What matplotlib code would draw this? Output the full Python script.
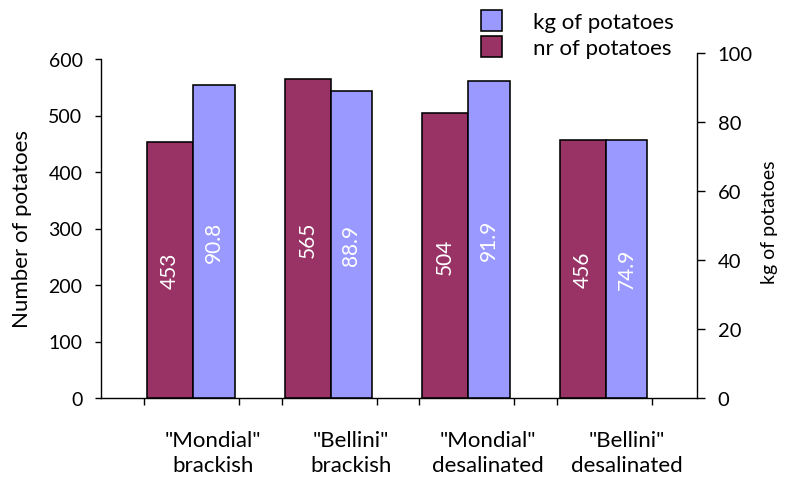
import numpy as np
import matplotlib
matplotlib.use("Agg")
import matplotlib.pyplot as plt
from matplotlib.patches import Rectangle

plt.rcParams['font.family'] = ['Lato', 'DejaVu Sans']

categories = ['"Mondial"\nbrackish', '"Bellini"\nbrackish',
              '"Mondial"\ndesalinated', '"Bellini"\ndesalinated']
nr_potatoes = [453, 565, 504, 456]
kg_potatoes = [90.8, 88.9, 91.9, 74.9]
legend_labels = ['kg of potatoes', 'nr of potatoes']

maroon = '#993366'
lavender = '#9999FF'

W, H = 790, 481
fig = plt.figure(figsize=(W / 100, H / 100), dpi=100)


def fx(px):
    return px / W


def fy(py):
    return 1 - py / H


# primary axis (counts) and secondary axis (kg) with their own vertical extents
ax = fig.add_axes([fx(101), fy(399), fx(697) - fx(101), fy(60) - fy(399)])
ax2 = fig.add_axes([fx(101), fy(399), fx(697) - fx(101), fy(54) - fy(399)],
                   sharex=ax)
ax2.patch.set_visible(False)

idx = np.arange(len(categories))
w_nr, w_kg = 0.335, 0.30
edge_lw = 1.15

bars_nr = ax.bar(idx, nr_potatoes, width=-w_nr, align='edge', color=maroon,
                 edgecolor='black', linewidth=edge_lw, zorder=3)
bars_kg = ax2.bar(idx, kg_potatoes, width=w_kg, align='edge', color=lavender,
                  edgecolor='black', linewidth=edge_lw, zorder=3)

for rect, v in zip(bars_nr, nr_potatoes):
    ax.text(rect.get_x() + rect.get_width() / 2, v / 2, f'{v}', rotation=90,
            ha='center', va='center', color='white', fontsize=15, zorder=4)
for rect, v in zip(bars_kg, kg_potatoes):
    ax2.text(rect.get_x() + rect.get_width() / 2, v / 2, f'{v}', rotation=90,
             ha='center', va='center', color='white', fontsize=15, zorder=4)

ax.set_xlim(-0.671, 3.663)
ax.set_ylim(0, 600)
ax2.set_ylim(0, 100)
ax.set_yticks(np.arange(0, 601, 100))
ax2.set_yticks(np.arange(0, 101, 20))

# category boundary ticks on the x axis
left_edges = idx - 0.355
right_edges = idx + 0.335
ax.set_xticks(np.concatenate([left_edges, right_edges]))
ax.set_xticklabels([])
bounds = list(left_edges) + [ax.get_xlim()[1]]
label_pos = [(bounds[i] + bounds[i + 1]) / 2 for i in range(len(categories))]
ax.set_xticks(label_pos, minor=True)
ax.set_xticklabels(categories, minor=True, fontsize=16, linespacing=1.3)
ax.tick_params(axis='x', which='minor', length=0, pad=23)
ax.tick_params(axis='x', which='major', length=5, width=1, direction='out')

ax.tick_params(axis='y', labelsize=14, length=4.3, width=1, direction='out',
               pad=9)
ax2.yaxis.tick_right()
ax2.tick_params(axis='y', labelsize=14.5, length=5.8, width=1,
                direction='out', pad=9)
ax2.tick_params(axis='x', which='both', bottom=False, labelbottom=False)

ax.spines['top'].set_visible(False)
ax.spines['right'].set_visible(False)
for s in ('left', 'bottom'):
    ax.spines[s].set_linewidth(1)
for s in ('top', 'left', 'bottom'):
    ax2.spines[s].set_visible(False)
ax2.spines['right'].set_linewidth(1)

fig.text(fx(22), fy(229), 'Number of potatoes', rotation=90, ha='center',
         va='center', fontsize=16)
fig.text(fx(769), fy(222), 'kg of potatoes', rotation=90, ha='center',
         va='center', fontsize=14)

# legend drawn as swatches beside their labels
for row, (label, color) in enumerate(zip(legend_labels, [lavender, maroon])):
    top = 11 + row * 26
    fig.patches.append(Rectangle((fx(481), fy(top + 21)), fx(21), 21 / H,
                                 transform=fig.transFigure, facecolor=color,
                                 edgecolor='black', linewidth=edge_lw))
    fig.text(fx(533), fy(top + 12), label, ha='left', va='center',
             fontsize=16)

fig.savefig('out.png', dpi=100)
